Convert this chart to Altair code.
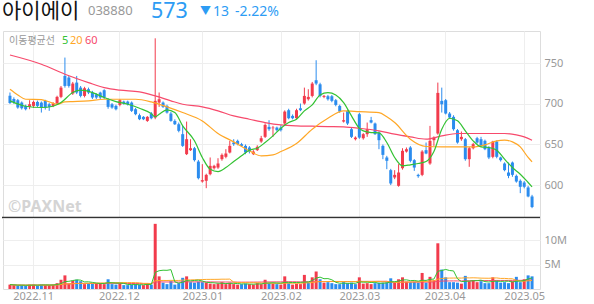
import altair as alt
import pandas as pd

# ---------------- data ----------------
opens = [710, 706, 704.5, 701.6, 697.5, 696.3, 697.5, 702.4, 701.6, 703.7, 699.5, 697.5, 700.4, 708.6, 734.4, 732.4,
         712.7, 726.2, 720, 709.8, 718, 713.9, 711.8, 713.9, 716.8, 705.7, 699.5, 697.5, 698.7, 702.8, 702.8, 701.6,
         693.4, 686, 684, 679, 688.1, 683.2, 701.6, 701.6, 697.5, 688.1, 679, 674.9, 662.7, 638.1, 643, 645.4,
         629, 604.4, 605.3, 613.4, 620.8, 621.6, 631.9, 634.8, 640.1, 652.4, 654.5, 650.4, 648.3, 646.3, 638.1, 643,
         653.6, 659.4, 671.7, 670, 670.8, 670.8, 675.8, 692.2, 685.2, 682.3, 694.6, 700.4, 705.7, 709.8, 729.1, 724.1,
         708.6, 709.4, 709.4, 704.5, 697.5, 678.2, 691.4, 668.8, 656.5, 687.3, 657.7, 662.7, 679.9, 675.8, 664.7, 648.3,
         634, 618.4, 609.4, 599.1, 620.8, 641.3, 646.3, 630.7, 612.6, 612.6, 643, 626.6, 655.3, 663.5, 703.7, 704.5,
         688.1, 684, 667.6, 656.5, 656.5, 631.9, 645.4, 657.7, 656.5, 654.5, 646.3, 634.8, 653.6, 634, 626.6, 615.5,
         627.8, 611.4, 605.3, 603.2, 597.1, 586]
highs = [714, 708, 706, 703, 699, 704.5, 704, 704, 703, 705, 701, 702, 710, 722, 757, 734.4,
         727, 734.4, 722, 721, 720, 716, 713, 715, 718, 707, 701, 699, 706, 704, 704, 703,
         695, 688, 685, 685, 690, 780.7, 714, 703, 699, 690, 681, 677, 673, 678.2, 656.5, 647,
         631, 625.8, 614, 634, 625, 633.1, 639, 644.2, 654.5, 656.5, 656, 652, 650, 648, 643, 649,
         660.6, 676, 679.9, 672.9, 672, 673.7, 692, 694, 687, 694, 700.4, 720, 718, 727, 753.7, 726,
         711, 711, 711, 706, 699, 689.3, 693, 671, 660, 689, 664, 677, 684, 677, 666, 650,
         636, 620, 618.4, 625.8, 645.4, 646.3, 648, 632, 614, 643, 652.4, 672.9, 660, 726.2, 720, 706,
         690, 686, 669, 666, 658, 647, 652, 659.4, 659.4, 656, 648, 654.5, 655, 635, 628, 627.8,
         629, 613, 607, 605, 599, 588]
lows = [700, 700, 694, 693, 692, 693.4, 695, 696, 689.3, 693, 691.4, 696, 699, 707, 720, 720,
        711, 712, 708, 708, 712, 706, 706, 706, 706, 694, 694, 692, 697, 699, 698, 690,
        686, 680, 680, 677.8, 681, 681.1, 696.3, 695, 688, 678, 674, 665, 647, 637, 642, 629,
        607, 603, 596.2, 612, 619, 620, 630, 633, 639, 648.3, 649, 647, 638, 639, 637, 642,
        652, 658, 666.8, 659.4, 666, 666, 674, 681, 681, 681, 691, 699, 704, 708, 723, 708,
        707, 704, 702, 697, 689, 677, 674, 658, 655, 657, 656, 659.4, 676, 661.8, 644.2, 631.9,
        619.6, 600, 607.3, 598, 619, 640, 628, 617.5, 609, 611, 638, 625, 648.3, 662, 689.3, 687,
        682, 667, 651, 654.5, 630, 622.5, 644, 651, 647, 643, 632, 633, 633, 629, 617, 608.5,
        610.2, 603, 590.1, 596, 585, 571.6]
closes = [701, 702, 695.5, 694.6, 693.4, 699.5, 702.4, 697.5, 695.5, 695.5, 696.3, 700.4, 708.6, 720, 722.1, 722.1,
          725, 713.9, 709.8, 719.2, 713.9, 707.8, 707.8, 707.8, 707.8, 696.3, 695.5, 693.4, 704.5, 700.4, 699.5, 691.4,
          687.3, 681.1, 681.1, 684, 682.3, 703.7, 705.7, 696.3, 689.3, 679, 674.9, 666.8, 648.3, 656.5, 645.4, 630.7,
          608.5, 606.1, 612.6, 623.7, 623.7, 626.6, 637.2, 638.9, 648.3, 650.4, 650.4, 648.3, 640.1, 641.3, 641.3, 647.1,
          657.7, 674.1, 668.8, 670.8, 667.6, 667.6, 690.5, 682.3, 682.3, 692.2, 692.2, 709.8, 708.6, 725, 725, 709.8,
          709.8, 705.7, 703.7, 698.7, 690.5, 679.9, 675.8, 659.4, 658.5, 658.5, 662.7, 668.8, 677, 662.7, 655.3, 637.2,
          629.9, 602, 612.6, 615.5, 642.2, 644.2, 629.9, 621.6, 611, 641.3, 638.9, 654.5, 658.5, 713.5, 699.5, 688.1,
          683.2, 668.8, 652.4, 659.4, 631.9, 645.4, 650.4, 652.4, 648.3, 644.2, 634, 653.6, 634.8, 630.7, 618.4, 611.4,
          612.6, 604.4, 597.9, 597.9, 586, 573]
volumes = [0.9, 0.8, 0.7, 0.8, 0.7, 0.9, 0.9, 0.7, 0.9, 0.8, 0.8, 0.9, 1.2, 1.9, 2.8, 1.1,
           1.7, 1.9, 1.6, 1.0, 1.2, 1.1, 1.2, 1.2, 1.0, 2.0, 1.0, 0.9, 1.1, 0.8, 0.8, 0.9,
           1.0, 0.9, 0.8, 1.1, 0.9, 13.4, 2.6, 1.3, 1.0, 1.6, 0.9, 1.2, 2.3, 2.6, 1.4, 1.3,
           1.5, 1.4, 1.3, 1.1, 1.0, 1.1, 1.4, 1.0, 1.3, 1.0, 0.9, 1.0, 1.1, 1.0, 0.9, 1.2,
           1.0, 1.9, 1.2, 1.1, 1.0, 0.9, 2.6, 1.2, 0.9, 1.1, 1.0, 2.9, 1.3, 2.4, 3.6, 2.0,
           1.3, 1.4, 1.2, 1.0, 1.0, 1.4, 1.2, 1.3, 1.0, 2.4, 1.1, 1.2, 1.0, 1.2, 1.3, 1.3,
           1.4, 2.2, 1.3, 2.0, 2.4, 1.5, 1.4, 1.5, 1.3, 3.3, 1.3, 2.5, 1.8, 9.4, 4.0, 2.4,
           1.4, 1.4, 1.3, 1.1, 2.7, 1.6, 1.8, 1.4, 1.6, 1.2, 1.2, 2.4, 1.7, 1.3, 1.4, 1.2,
           1.6, 2.5, 1.4, 2.0, 2.8, 2.6]

ma5_idx = [0, 4, 8, 11, 13, 16, 18, 21, 24, 27, 30, 33, 36, 37, 38, 40, 42, 44, 47, 49, 51, 53, 55, 57, 59, 61,
           63, 65, 67, 69, 71, 73, 75, 77, 79, 81, 83, 85, 87, 89, 90, 92, 94, 96, 98, 100, 102, 104, 106, 108,
           110, 112, 114, 116, 118, 120, 122, 124, 126, 128, 130, 132, 133]
ma5_val = [703.7, 697.1, 695.5, 697.1, 701.6, 713.9, 716.8, 713.9, 707.8, 702.8, 699.5, 694.6, 688, 684, 687.3,
           692.6, 689.3, 672.9, 654.5, 634, 619.6, 616.7, 621.6, 629, 636, 643, 645.4, 652.4, 660.6, 670, 677,
           681.1, 691.4, 698.7, 711, 713.9, 711, 701.6, 685.2, 670, 666.8, 664.7, 664.3, 652.4, 634, 623.7, 625,
           626.6, 629, 641.3, 668.8, 682.3, 679.1, 666.8, 654.5, 647, 646.3, 643, 631.9, 621.6, 613.4, 603.2, 597.9]
ma20_idx = [0, 2, 4, 8, 10, 12, 14, 16, 20, 24, 28, 32, 36, 40, 44, 49, 53, 57, 61, 64, 67, 69, 73, 77, 81, 85, 89,
            94, 96, 98, 102, 106, 110, 114, 118, 121, 124, 126, 128, 130, 132, 133]
ma20_val = [718, 711, 705.7, 705.3, 702.4, 699.5, 702.4, 702.8, 703.7, 705.7, 705.7, 705.7, 702.4, 696.3, 689.3,
            679, 663.5, 653.2, 642.2, 636, 637.2, 641.3, 651.2, 668.8, 682.3, 691.4, 690.5, 689.3, 684, 677, 656.5,
            647.5, 647, 647, 647, 649.5, 654.5, 655.3, 653.2, 647, 634, 628.6]
ma60_idx = [0, 8, 14, 20, 24, 28, 33, 37, 41, 44, 49, 53, 57, 61, 65, 69, 73, 77, 81, 85, 89, 94, 98, 102, 106, 110,
            114, 118, 122, 126, 129, 131, 133]
ma60_val = [760.2, 748.8, 736.5, 726.2, 720, 716.8, 714.7, 709.8, 703.7, 699.5, 696.3, 691.4, 685.2, 681.1, 677,
            674.1, 672.9, 672.5, 672.1, 671.7, 670, 666.8, 662.7, 659.4, 656.5, 660.6, 663.5, 663.5, 663.5, 663.5,
            661.8, 659.4, 655.3]

month_pos = [5.9, 27.75, 49, 69, 89, 110.75, 131]
month_labels = ["2022.11", "2022.12", "2023.01", "2023.02", "2023.03", "2023.04", "2023.05"]
price_ticks = [600, 650, 700, 750]
vol_ticks = [5, 10]

RED = "#f23b4c"
BLUE = "#2b8cee"
GREEN = "#33c233"
ORANGE = "#ffa726"
PINK = "#f74a6c"
MA_COLORS = {"5": GREEN, "20": ORANGE, "60": PINK}

# ---------------- frames ----------------
n = len(closes)
df = pd.DataFrame({"i": list(range(n)), "open": opens, "high": highs, "low": lows, "close": closes, "vol": volumes})
df["col"] = [RED if c >= o else BLUE for o, c in zip(opens, closes)]
df["b0"] = df[["open", "close"]].min(axis=1)
df["b1"] = df[["open", "close"]].max(axis=1)
prev = [closes[0]] + closes[:-1]
df["vcol"] = [RED if (k == 0 or c >= p) else BLUE for k, (c, p) in enumerate(zip(closes, prev))]
df["v5"] = df["vol"].rolling(5, min_periods=1).mean()
df["v20"] = df["vol"].rolling(20, min_periods=1).mean()
df["v60"] = df["vol"].rolling(60, min_periods=1).mean()

ma_df = pd.concat([
    pd.DataFrame({"i": ma60_idx, "v": ma60_val, "s": "60"}),
    pd.DataFrame({"i": ma20_idx, "v": ma20_val, "s": "20"}),
    pd.DataFrame({"i": ma5_idx, "v": ma5_val, "s": "5"}),
])
ma_df["col"] = ma_df["s"].map(MA_COLORS)
vma_df = pd.concat([
    pd.DataFrame({"i": df["i"], "v": df["v60"], "s": "60"}),
    pd.DataFrame({"i": df["i"], "v": df["v20"], "s": "20"}),
    pd.DataFrame({"i": df["i"], "v": df["v5"], "s": "5"}),
])
vma_df["col"] = vma_df["s"].map(MA_COLORS)

W = 537
HP = 187
HV = 71
xdom = [-0.5, 133.75]

label_expr = " : ".join(
    f"datum.value == {p} ? '{l}'" for p, l in zip(month_pos, month_labels)
) + " : ''"

x_price = alt.X("i:Q", scale=alt.Scale(domain=xdom, nice=False, zero=False),
                axis=alt.Axis(values=month_pos, labels=False, ticks=False, domain=False, grid=True,
                              gridColor="#eeeeee", title=None))
x_vol = alt.X("i:Q", scale=alt.Scale(domain=xdom, nice=False, zero=False),
              axis=alt.Axis(values=month_pos, labelExpr=label_expr, ticks=False, domain=False, grid=True,
                            gridColor="#eeeeee", title=None, labelFlush=False, labelOverlap=False,
                            labelColor="#999999", labelFontSize=11, labelPadding=1))
y_scale = alt.Scale(domain=[559.5, 789.7], nice=False, zero=False)
y_axis = alt.Axis(orient="right", values=price_ticks, ticks=False, domain=False, grid=True, gridColor="#eeeeee",
                  title=None, labelColor="#999999", labelFontSize=11, labelPadding=4)
col_enc = alt.Color("col:N", scale=None, legend=None)

base = alt.Chart(df)
wicks = base.mark_rule(strokeWidth=1).encode(
    x=x_price, y=alt.Y("low:Q", scale=y_scale, axis=y_axis), y2="high:Q", color=col_enc)
bodies = base.mark_bar(size=3).encode(x="i:Q", y="b0:Q", y2="b1:Q", color=col_enc)
ma_lines = alt.Chart(ma_df).mark_line(strokeWidth=1.2, interpolate="monotone").encode(
    x="i:Q", y="v:Q", color=col_enc, detail="s:N", order="i:Q")

one = pd.DataFrame({"k": [0]})


def txt(s, x, y, size, color, weight="normal", font="Noto Sans CJK KR", baseline="alphabetic"):
    return alt.Chart(one).mark_text(text=s, align="left", baseline=baseline, fontSize=size, color=color,
                                    fontWeight=weight, font=font).encode(x=alt.value(x), y=alt.value(y))


anchor = alt.Chart(one).mark_rule(strokeOpacity=0).encode(
    x=alt.value(-1), y=alt.value(-30), y2=alt.value(-29))
bottom_line = alt.Chart(one).mark_rule(color="#333333", strokeWidth=1.5).encode(
    x=alt.value(-1), x2=alt.value(W), y=alt.value(HP - 0.5), y2=alt.value(HP - 0.5))

texts = [
    txt("아이에이", -1, -30, 21, "#111111", baseline="top"),
    txt("038880", 85, -26, 13, "#999999", font="Noto Sans", baseline="top"),
    txt("573", 148, -30, 21.5, "#2d9cf4", font="Noto Sans", baseline="top"),
    txt("▼", 197, -25, 11, "#2d9cf4", baseline="top"),
    txt("13", 210, -26.5, 14, "#2d9cf4", font="Noto Sans", baseline="top"),
    txt("-2.22%", 232, -26.5, 14, "#2d9cf4", font="Noto Sans", baseline="top"),
    txt("이동평균선", 6, 12.5, 10, "#999999"),
    txt("5", 59, 12.5, 11, GREEN, font="Noto Sans"),
    txt("20", 67, 12.5, 11, ORANGE, font="Noto Sans"),
    txt("60", 82, 12.5, 11, PINK, font="Noto Sans"),
    txt("©PAXNet", 5, 181, 16, "#d4d4d4", weight="bold", font="Noto Sans"),
]

price = alt.layer(wicks, bodies, ma_lines, bottom_line, anchor, *texts).properties(width=W, height=HP)

vy_scale = alt.Scale(domain=[0, 14.6], nice=False)
vy_axis = alt.Axis(orient="right", values=vol_ticks, labelExpr="datum.value + 'M'", ticks=False, domain=False,
                   grid=True, gridColor="#eeeeee", title=None, labelColor="#999999", labelFontSize=11,
                   labelPadding=4)
vbars = alt.Chart(df).mark_bar(size=3).encode(
    x=x_vol, y=alt.Y("vol:Q", scale=vy_scale, axis=vy_axis),
    color=alt.Color("vcol:N", scale=None, legend=None))
vlines = alt.Chart(vma_df).mark_line(strokeWidth=1, interpolate="linear").encode(
    x="i:Q", y="v:Q", color=col_enc, detail="s:N", order="i:Q")
volume = alt.layer(vbars, vlines).properties(width=W, height=HV)

chart = alt.vconcat(price, volume, spacing=0, bounds="flush").properties(
    padding={"left": 0, "top": 0, "right": 0, "bottom": 0}
).configure_view(stroke="#cccccc").configure(font="Noto Sans", background="white")

chart.save("out.html", embed_options={"renderer": "svg", "actions": False})
